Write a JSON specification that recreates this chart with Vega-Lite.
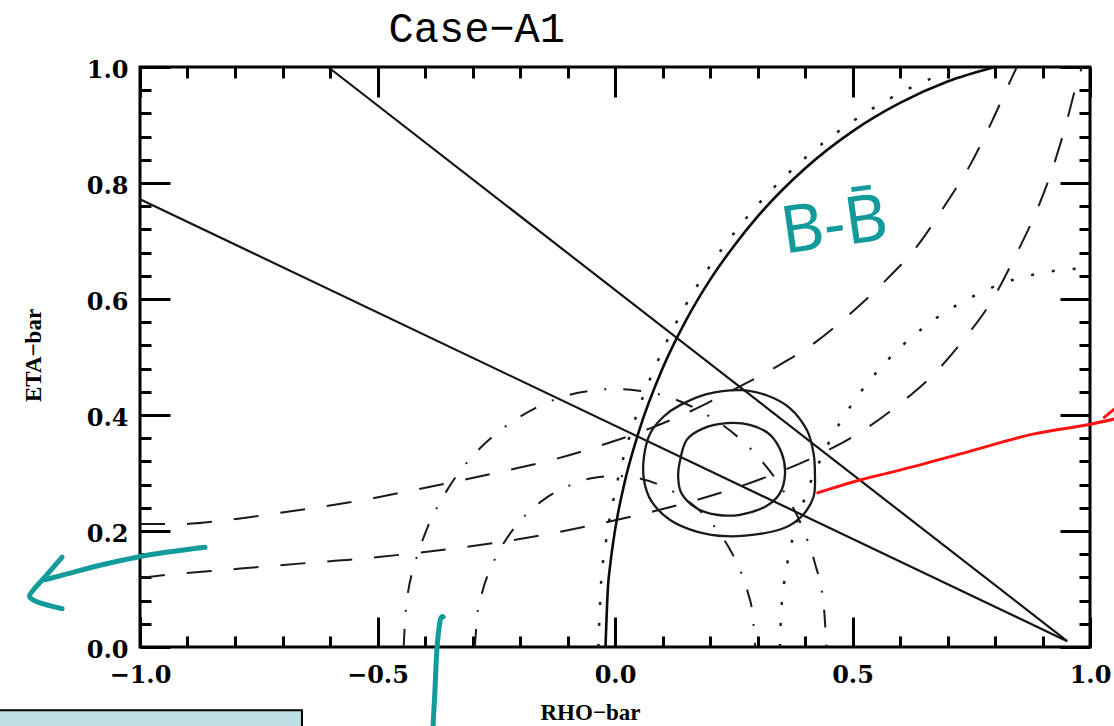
{
  "$schema": "https://vega.github.io/schema/vega-lite/v6.json",
  "width": 950,
  "height": 580,
  "autosize": "none",
  "padding": {"left": 140, "top": 67, "right": 24, "bottom": 79},
  "background": "white",
  "config": {
    "view": {"stroke": "black", "strokeWidth": 3},
    "axis": {"grid": false, "domain": false, "tickColor": "black", "tickWidth": 3, "tickCap": "butt"}
  },
  "datasets": {
    "dashed": [
      {"c": "L", "rho": -1.0, "eta": 0.119}, {"c": "L", "rho": -0.947, "eta": 0.124}, {"c": "L", "rho": -0.85, "eta": 0.131}, {"c": "L", "rho": -0.747, "eta": 0.138}, {"c": "L", "rho": -0.646, "eta": 0.145}, {"c": "L", "rho": -0.55, "eta": 0.151}, {"c": "L", "rho": -0.453, "eta": 0.159}, {"c": "L", "rho": -0.347, "eta": 0.169}, {"c": "L", "rho": -0.248, "eta": 0.18}, {"c": "L", "rho": -0.152, "eta": 0.193}, {"c": "L", "rho": -0.053, "eta": 0.209}, {"c": "L", "rho": 0.046, "eta": 0.227}, {"c": "L", "rho": 0.143, "eta": 0.247}, {"c": "L", "rho": 0.238, "eta": 0.27}, {"c": "L", "rho": 0.331, "eta": 0.297}, {"c": "L", "rho": 0.423, "eta": 0.329}, {"c": "L", "rho": 0.514, "eta": 0.369}, {"c": "L", "rho": 0.596, "eta": 0.417}, {"c": "L", "rho": 0.672, "eta": 0.471}, {"c": "L", "rho": 0.737, "eta": 0.533}, {"c": "L", "rho": 0.794, "eta": 0.598}, {"c": "L", "rho": 0.844, "eta": 0.676}, {"c": "L", "rho": 0.884, "eta": 0.745}, {"c": "L", "rho": 0.92, "eta": 0.822}, {"c": "L", "rho": 0.949, "eta": 0.9}, {"c": "L", "rho": 0.973, "eta": 0.974}, {"c": "L", "rho": 0.983, "eta": 1.0},
      {"c": "U", "rho": -1.0, "eta": 0.212}, {"c": "U", "rho": -0.916, "eta": 0.212}, {"c": "U", "rho": -0.815, "eta": 0.219}, {"c": "U", "rho": -0.716, "eta": 0.23}, {"c": "U", "rho": -0.632, "eta": 0.24}, {"c": "U", "rho": -0.52, "eta": 0.255}, {"c": "U", "rho": -0.421, "eta": 0.271}, {"c": "U", "rho": -0.32, "eta": 0.288}, {"c": "U", "rho": -0.225, "eta": 0.305}, {"c": "U", "rho": -0.126, "eta": 0.324}, {"c": "U", "rho": -0.032, "eta": 0.347}, {"c": "U", "rho": 0.074, "eta": 0.377}, {"c": "U", "rho": 0.158, "eta": 0.406}, {"c": "U", "rho": 0.248, "eta": 0.443}, {"c": "U", "rho": 0.335, "eta": 0.481}, {"c": "U", "rho": 0.423, "eta": 0.526}, {"c": "U", "rho": 0.497, "eta": 0.576}, {"c": "U", "rho": 0.571, "eta": 0.633}, {"c": "U", "rho": 0.636, "eta": 0.691}, {"c": "U", "rho": 0.695, "eta": 0.762}, {"c": "U", "rho": 0.749, "eta": 0.833}, {"c": "U", "rho": 0.794, "eta": 0.907}, {"c": "U", "rho": 0.834, "eta": 0.979}, {"c": "U", "rho": 0.846, "eta": 1.0}
    ],
    "dashdot": [
      {"c": "O", "rho": -0.445, "eta": 0}, {"c": "O", "rho": -0.44, "eta": 0.066}, {"c": "O", "rho": -0.42, "eta": 0.147}, {"c": "O", "rho": -0.4, "eta": 0.195}, {"c": "O", "rho": -0.35, "eta": 0.275}, {"c": "O", "rho": -0.3, "eta": 0.329}, {"c": "O", "rho": -0.25, "eta": 0.368}, {"c": "O", "rho": -0.2, "eta": 0.397}, {"c": "O", "rho": -0.15, "eta": 0.419}, {"c": "O", "rho": -0.1, "eta": 0.434}, {"c": "O", "rho": -0.05, "eta": 0.442}, {"c": "O", "rho": 0, "eta": 0.445}, {"c": "O", "rho": 0.05, "eta": 0.442}, {"c": "O", "rho": 0.1, "eta": 0.434}, {"c": "O", "rho": 0.15, "eta": 0.419}, {"c": "O", "rho": 0.2, "eta": 0.397}, {"c": "O", "rho": 0.25, "eta": 0.368}, {"c": "O", "rho": 0.3, "eta": 0.329}, {"c": "O", "rho": 0.35, "eta": 0.275}, {"c": "O", "rho": 0.4, "eta": 0.195}, {"c": "O", "rho": 0.42, "eta": 0.147}, {"c": "O", "rho": 0.44, "eta": 0.066}, {"c": "O", "rho": 0.445, "eta": 0},
      {"c": "I", "rho": -0.295, "eta": 0}, {"c": "I", "rho": -0.29, "eta": 0.054}, {"c": "I", "rho": -0.28, "eta": 0.093}, {"c": "I", "rho": -0.26, "eta": 0.139}, {"c": "I", "rho": -0.24, "eta": 0.171}, {"c": "I", "rho": -0.2, "eta": 0.217}, {"c": "I", "rho": -0.15, "eta": 0.254}, {"c": "I", "rho": -0.1, "eta": 0.277}, {"c": "I", "rho": -0.05, "eta": 0.291}, {"c": "I", "rho": 0, "eta": 0.295}, {"c": "I", "rho": 0.05, "eta": 0.291}, {"c": "I", "rho": 0.1, "eta": 0.277}, {"c": "I", "rho": 0.15, "eta": 0.254}, {"c": "I", "rho": 0.2, "eta": 0.217}, {"c": "I", "rho": 0.24, "eta": 0.171}, {"c": "I", "rho": 0.26, "eta": 0.139}, {"c": "I", "rho": 0.28, "eta": 0.093}, {"c": "I", "rho": 0.29, "eta": 0.054}, {"c": "I", "rho": 0.295, "eta": 0}
    ],
    "lines": [
      {"c": "l1", "rho": -0.604, "eta": 1.0}, {"c": "l1", "rho": 0.952, "eta": 0.01},
      {"c": "l2", "rho": -1.0, "eta": 0.772}, {"c": "l2", "rho": 0.952, "eta": 0.01}
    ],
    "arcS": [
      {"rho": -0.02, "eta": 0}, {"rho": -0.015, "eta": 0.101}, {"rho": -0.01, "eta": 0.142}, {"rho": 0, "eta": 0.201}, {"rho": 0.02, "eta": 0.283}, {"rho": 0.05, "eta": 0.371}, {"rho": 0.1, "eta": 0.48}, {"rho": 0.15, "eta": 0.564}, {"rho": 0.2, "eta": 0.633}, {"rho": 0.25, "eta": 0.691}, {"rho": 0.3, "eta": 0.742}, {"rho": 0.4, "eta": 0.825}, {"rho": 0.5, "eta": 0.889}, {"rho": 0.6, "eta": 0.938}, {"rho": 0.7, "eta": 0.975}, {"rho": 0.8, "eta": 1.0}
    ],
    "dots": [
      {"c": "D1", "rho": -0.035, "eta": 0}, {"c": "D1", "rho": -0.03, "eta": 0.101}, {"c": "D1", "rho": -0.02, "eta": 0.175}, {"c": "D1", "rho": 0, "eta": 0.267}, {"c": "D1", "rho": 0.02, "eta": 0.333}, {"c": "D1", "rho": 0.05, "eta": 0.411}, {"c": "D1", "rho": 0.1, "eta": 0.511}, {"c": "D1", "rho": 0.15, "eta": 0.591}, {"c": "D1", "rho": 0.2, "eta": 0.657}, {"c": "D1", "rho": 0.25, "eta": 0.713}, {"c": "D1", "rho": 0.3, "eta": 0.762}, {"c": "D1", "rho": 0.4, "eta": 0.843}, {"c": "D1", "rho": 0.5, "eta": 0.906}, {"c": "D1", "rho": 0.6, "eta": 0.955}, {"c": "D1", "rho": 0.7, "eta": 0.991}, {"c": "D1", "rho": 0.733, "eta": 1.0},
      {"c": "D2", "rho": 0.347, "eta": 0}, {"c": "D2", "rho": 0.35, "eta": 0.062}, {"c": "D2", "rho": 0.36, "eta": 0.13}, {"c": "D2", "rho": 0.38, "eta": 0.205}, {"c": "D2", "rho": 0.4, "eta": 0.258}, {"c": "D2", "rho": 0.45, "eta": 0.352}, {"c": "D2", "rho": 0.5, "eta": 0.42}, {"c": "D2", "rho": 0.55, "eta": 0.473}, {"c": "D2", "rho": 0.6, "eta": 0.516}, {"c": "D2", "rho": 0.65, "eta": 0.551}, {"c": "D2", "rho": 0.7, "eta": 0.58}, {"c": "D2", "rho": 0.75, "eta": 0.603}, {"c": "D2", "rho": 0.8, "eta": 0.622}, {"c": "D2", "rho": 0.85, "eta": 0.636}, {"c": "D2", "rho": 0.9, "eta": 0.645}, {"c": "D2", "rho": 0.95, "eta": 0.651}, {"c": "D2", "rho": 1.0, "eta": 0.653}
    ],
    "contours": [
      {"c": "outer", "i": 0, "rho": 0.137, "eta": 0.417}, {"c": "outer", "i": 1, "rho": 0.193, "eta": 0.436}, {"c": "outer", "i": 2, "rho": 0.263, "eta": 0.443}, {"c": "outer", "i": 3, "rho": 0.319, "eta": 0.434}, {"c": "outer", "i": 4, "rho": 0.368, "eta": 0.412}, {"c": "outer", "i": 5, "rho": 0.404, "eta": 0.374}, {"c": "outer", "i": 6, "rho": 0.418, "eta": 0.334}, {"c": "outer", "i": 7, "rho": 0.421, "eta": 0.294}, {"c": "outer", "i": 8, "rho": 0.418, "eta": 0.259}, {"c": "outer", "i": 9, "rho": 0.396, "eta": 0.228}, {"c": "outer", "i": 10, "rho": 0.361, "eta": 0.207}, {"c": "outer", "i": 11, "rho": 0.305, "eta": 0.195}, {"c": "outer", "i": 12, "rho": 0.235, "eta": 0.191}, {"c": "outer", "i": 13, "rho": 0.172, "eta": 0.199}, {"c": "outer", "i": 14, "rho": 0.116, "eta": 0.219}, {"c": "outer", "i": 15, "rho": 0.077, "eta": 0.251}, {"c": "outer", "i": 16, "rho": 0.061, "eta": 0.288}, {"c": "outer", "i": 17, "rho": 0.061, "eta": 0.328}, {"c": "outer", "i": 18, "rho": 0.074, "eta": 0.368}, {"c": "outer", "i": 19, "rho": 0.102, "eta": 0.397},
      {"c": "inner", "i": 0, "rho": 0.137, "eta": 0.322}, {"c": "inner", "i": 1, "rho": 0.151, "eta": 0.357}, {"c": "inner", "i": 2, "rho": 0.186, "eta": 0.377}, {"c": "inner", "i": 3, "rho": 0.235, "eta": 0.386}, {"c": "inner", "i": 4, "rho": 0.284, "eta": 0.383}, {"c": "inner", "i": 5, "rho": 0.326, "eta": 0.366}, {"c": "inner", "i": 6, "rho": 0.351, "eta": 0.334}, {"c": "inner", "i": 7, "rho": 0.358, "eta": 0.299}, {"c": "inner", "i": 8, "rho": 0.347, "eta": 0.265}, {"c": "inner", "i": 9, "rho": 0.316, "eta": 0.242}, {"c": "inner", "i": 10, "rho": 0.263, "eta": 0.228}, {"c": "inner", "i": 11, "rho": 0.214, "eta": 0.228}, {"c": "inner", "i": 12, "rho": 0.172, "eta": 0.239}, {"c": "inner", "i": 13, "rho": 0.14, "eta": 0.265}, {"c": "inner", "i": 14, "rho": 0.133, "eta": 0.294}
    ],
    "teal": [
      {"c": "s", "i": 0, "rho": -0.863, "eta": 0.172}, {"c": "s", "i": 1, "rho": -0.979, "eta": 0.159}, {"c": "s", "i": 2, "rho": -1.084, "eta": 0.141}, {"c": "s", "i": 3, "rho": -1.154, "eta": 0.126}, {"c": "s", "i": 4, "rho": -1.2, "eta": 0.116},
      {"c": "h", "i": 0, "rho": -1.164, "eta": 0.155}, {"c": "h", "i": 1, "rho": -1.2, "eta": 0.121}, {"c": "h", "i": 2, "rho": -1.225, "eta": 0.098}, {"c": "h", "i": 3, "rho": -1.232, "eta": 0.086}, {"c": "h", "i": 4, "rho": -1.211, "eta": 0.076}, {"c": "h", "i": 5, "rho": -1.164, "eta": 0.066},
      {"c": "v", "i": 0, "rho": -0.362, "eta": 0.052}, {"c": "v", "i": 1, "rho": -0.368, "eta": 0.046}, {"c": "v", "i": 2, "rho": -0.375, "eta": -0.005}, {"c": "v", "i": 3, "rho": -0.379, "eta": -0.074}, {"c": "v", "i": 4, "rho": -0.383, "eta": -0.136}
    ],
    "red": [
      {"c": "r", "i": 0, "rho": 0.427, "eta": 0.266}, {"c": "r", "i": 1, "rho": 0.516, "eta": 0.288}, {"c": "r", "i": 2, "rho": 0.6, "eta": 0.305}, {"c": "r", "i": 3, "rho": 0.741, "eta": 0.336}, {"c": "r", "i": 4, "rho": 0.88, "eta": 0.367}, {"c": "r", "i": 5, "rho": 1.0, "eta": 0.384}, {"c": "r", "i": 6, "rho": 1.051, "eta": 0.393},
      {"c": "rh", "i": 0, "rho": 1.03, "eta": 0.396}, {"c": "rh", "i": 1, "rho": 1.051, "eta": 0.41}
    ],
    "note": [{"t": "B-B̄", "rho": 0.462, "eta": 0.725}],
    "heading": [{"t": "Case−A1", "rho": -0.291, "eta": 1.043}],
    "box": [{"rho": -1.3, "rho2": -0.659, "eta": -0.109, "eta2": -0.17}]
  },
  "encoding": {
    "x": {"field": "rho", "type": "quantitative", "scale": {"domain": [-1, 1], "nice": false, "zero": false}, "axis": null},
    "y": {"field": "eta", "type": "quantitative", "scale": {"domain": [0, 1], "nice": false, "zero": false}, "axis": null}
  },
  "layer": [
    {
      "data": {"name": "box"},
      "mark": {"type": "rect", "fill": "#bde0e3", "stroke": "black", "strokeWidth": 2},
      "encoding": {"x2": {"field": "rho2"}, "y2": {"field": "eta2"}}
    },
    {
      "data": {"name": "dashed"},
      "mark": {"type": "line", "color": "#1a1a1a", "strokeWidth": 2, "strokeDash": [25, 22], "interpolate": "monotone"},
      "encoding": {
        "detail": {"field": "c"},
        "x": {"field": "rho", "type": "quantitative", "scale": {"domain": [-1, 1], "nice": false, "zero": false},
          "axis": {"orient": "bottom", "values": [-1, -0.5, 0, 0.5, 1], "format": ".1f",
            "labelFont": "DejaVu Serif", "labelFontWeight": "bold", "labelFontSize": 24, "labelColor": "black", "labelPadding": 16, "labelFlush": false, "labelOverlap": false,
            "ticks": false, "tickSize": 0,
            "title": "RHO−bar", "titleFont": "Liberation Serif", "titleFontWeight": "bold", "titleFontSize": 23, "titleColor": "black", "titleX": 450, "titleY": 65, "titleAlign": "center", "titleBaseline": "middle"}},
        "y": {"field": "eta", "type": "quantitative", "scale": {"domain": [0, 1], "nice": false, "zero": false},
          "axis": {"orient": "left", "values": [0, 0.2, 0.4, 0.6, 0.8, 1], "format": ".1f",
            "labelFont": "DejaVu Serif", "labelFontWeight": "bold", "labelFontSize": 24, "labelColor": "black", "labelPadding": 12, "labelFlush": false, "labelOverlap": false, "labelOffset": 3,
            "ticks": false, "tickSize": 0,
            "title": "ETA−bar", "titleFont": "Liberation Serif", "titleFontWeight": "bold", "titleFontSize": 23, "titleColor": "black", "titleX": -107, "titleY": 288, "titleAngle": -90, "titleAlign": "center", "titleBaseline": "middle"}}
      }
    },
    {
      "data": {"name": "dashdot"},
      "mark": {"type": "line", "color": "#1a1a1a", "strokeWidth": 2, "strokeDash": [18, 17, 2, 17], "interpolate": "monotone"},
      "encoding": {
        "detail": {"field": "c"},
        "x": {"field": "rho", "type": "quantitative", "scale": {"domain": [-1, 1], "nice": false, "zero": false},
          "axis": {"orient": "bottom", "values": [-1, -0.5, 0, 0.5, 1], "labels": false, "ticks": true, "tickSize": -30, "title": null}},
        "y": {"field": "eta", "type": "quantitative", "scale": {"domain": [0, 1], "nice": false, "zero": false},
          "axis": {"orient": "left", "values": [0, 0.2, 0.4, 0.6, 0.8, 1], "labels": false, "ticks": true, "tickSize": -30, "title": null}}
      }
    },
    {
      "data": {"name": "lines"},
      "mark": {"type": "line", "color": "#141414", "strokeWidth": 2.2},
      "encoding": {
        "detail": {"field": "c"},
        "x": {"field": "rho", "type": "quantitative", "scale": {"domain": [-1, 1], "nice": false, "zero": false},
          "axis": {"orient": "bottom", "values": [-0.9, -0.8, -0.7, -0.6, -0.4, -0.3, -0.2, -0.1, 0.1, 0.2, 0.3, 0.4, 0.6, 0.7, 0.8, 0.9], "labels": false, "ticks": true, "tickSize": -11, "title": null}},
        "y": {"field": "eta", "type": "quantitative", "scale": {"domain": [0, 1], "nice": false, "zero": false},
          "axis": {"orient": "left", "values": [0.04, 0.08, 0.12, 0.16, 0.24, 0.28, 0.32, 0.36, 0.44, 0.48, 0.52, 0.56, 0.64, 0.68, 0.72, 0.76, 0.84, 0.88, 0.92, 0.96], "labels": false, "ticks": true, "tickSize": -11, "title": null}}
      }
    },
    {
      "data": {"name": "arcS"},
      "mark": {"type": "line", "color": "#0a0a0a", "strokeWidth": 2.6, "interpolate": "monotone"},
      "encoding": {
        "x": {"field": "rho", "type": "quantitative", "scale": {"domain": [-1, 1], "nice": false, "zero": false},
          "axis": {"orient": "top", "values": [-1, -0.5, 0, 0.5, 1], "labels": false, "ticks": true, "tickSize": -30, "title": null}},
        "y": {"field": "eta", "type": "quantitative", "scale": {"domain": [0, 1], "nice": false, "zero": false},
          "axis": {"orient": "right", "values": [0, 0.2, 0.4, 0.6, 0.8, 1], "labels": false, "ticks": true, "tickSize": -30, "title": null}}
      }
    },
    {
      "data": {"name": "dots"},
      "mark": {"type": "line", "color": "#1a1a1a", "strokeWidth": 2.5, "strokeDash": [3, 18], "interpolate": "monotone"},
      "encoding": {
        "detail": {"field": "c"},
        "x": {"field": "rho", "type": "quantitative", "scale": {"domain": [-1, 1], "nice": false, "zero": false},
          "axis": {"orient": "top", "values": [-0.9, -0.8, -0.7, -0.6, -0.4, -0.3, -0.2, -0.1, 0.1, 0.2, 0.3, 0.4, 0.6, 0.7, 0.8, 0.9], "labels": false, "ticks": true, "tickSize": -11, "title": null}},
        "y": {"field": "eta", "type": "quantitative", "scale": {"domain": [0, 1], "nice": false, "zero": false},
          "axis": {"orient": "right", "values": [0.04, 0.08, 0.12, 0.16, 0.24, 0.28, 0.32, 0.36, 0.44, 0.48, 0.52, 0.56, 0.64, 0.68, 0.72, 0.76, 0.84, 0.88, 0.92, 0.96], "labels": false, "ticks": true, "tickSize": -11, "title": null}}
      }
    },
    {
      "data": {"name": "contours"},
      "mark": {"type": "line", "color": "#1a1a1a", "strokeWidth": 2.3, "interpolate": "cardinal-closed"},
      "encoding": {"detail": {"field": "c"}, "order": {"field": "i", "type": "quantitative"}}
    },
    {
      "data": {"name": "red"},
      "mark": {"type": "line", "color": "#ff1111", "strokeWidth": 3, "strokeCap": "round", "interpolate": "monotone"},
      "encoding": {"detail": {"field": "c"}, "order": {"field": "i", "type": "quantitative"}}
    },
    {
      "data": {"name": "teal"},
      "mark": {"type": "line", "color": "#139a9a", "strokeWidth": 5, "strokeCap": "round", "strokeJoin": "round", "interpolate": "cardinal"},
      "encoding": {"detail": {"field": "c"}, "order": {"field": "i", "type": "quantitative"}}
    },
    {
      "data": {"name": "note"},
      "mark": {"type": "text", "font": "Noto Sans", "fontSize": 66, "color": "#139a9a", "angle": -8, "align": "center", "baseline": "middle"},
      "encoding": {"text": {"field": "t"}}
    },
    {
      "data": {"name": "heading"},
      "mark": {"type": "text", "font": "Liberation Mono", "fontSize": 42, "color": "black", "align": "center", "baseline": "alphabetic"},
      "encoding": {"text": {"field": "t"}}
    }
  ],
  "resolve": {"axis": {"x": "independent", "y": "independent"}}
}
